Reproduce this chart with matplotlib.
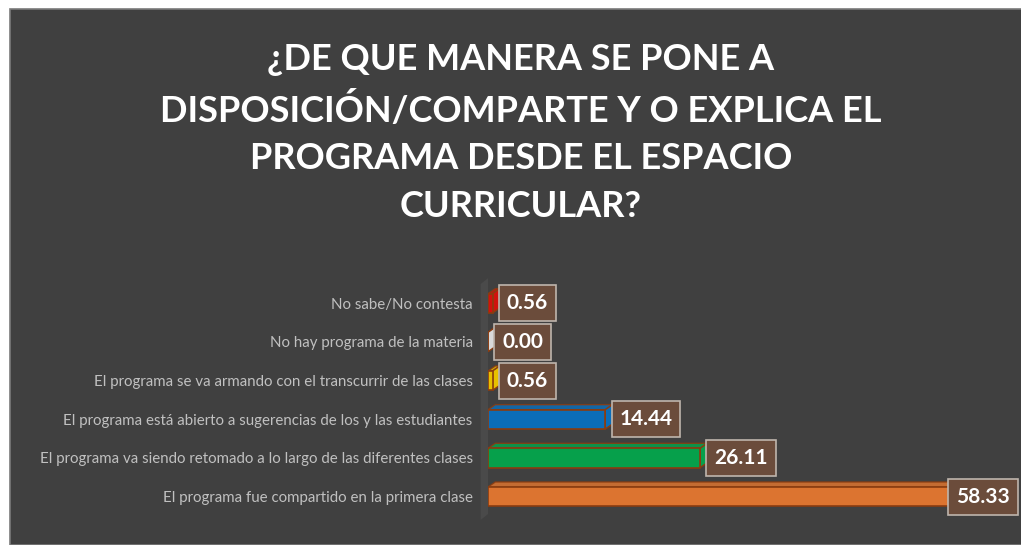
import matplotlib.pyplot as plt
from matplotlib.patches import Rectangle, Polygon

# datos (de arriba hacia abajo)
categorias = [
    'No sabe/No contesta',
    'No hay programa de la materia',
    'El programa se va armando con el transcurrir de las clases',
    'El programa está abierto a sugerencias de los y las estudiantes',
    'El programa va siendo retomado a lo largo de las diferentes clases',
    'El programa fue compartido en la primera clase',
]
valores = [0.56, 0.00, 0.56, 14.44, 26.11, 58.33]
colores = ['#D0120E', '#D9D9D9', '#E8C000', '#0B6DB8', '#06A04B', '#DC7430']
titulo = '¿DE QUE MANERA SE PONE A\nDISPOSICIÓN/COMPARTE Y O EXPLICA EL\nPROGRAMA DESDE EL ESPACIO\nCURRICULAR?'

fondo = '#404040'
borde = '#8A3C10'

fig = plt.figure(figsize=(10.21, 5.45), dpi=100, facecolor='white')
fig.patches.append(Rectangle((10 / 1021, 0), 1, 1 - 9 / 545, transform=fig.transFigure,
                             facecolor=fondo, edgecolor='#7a7a7a', lw=1.2, zorder=-5))

fig.text(0.51, 1 - 43 / 545, titulo, ha='center', va='top', color='white', fontsize=26,
         fontweight='bold', family='Lato', linespacing=1.53)

ax = fig.add_axes([488 / 1021, 1 - 516 / 545, (1016 - 488) / 1021, (516 - 284) / 545])
ax.set_facecolor('none')
xmax = 65
y = list(range(len(categorias)))[::-1]
alto = 0.5
ax.barh(y, valores, height=alto, color=colores, edgecolor=borde, lw=1.2, zorder=3)

# cara superior (efecto 3D)
dx, dy = 0.9, 0.13
for yi, v, c in zip(y, valores, colores):
    top = yi + alto / 2
    ax.add_patch(Polygon([(0, top), (dx, top + dy), (v + dx, top + dy), (v, top)],
                         closed=True, facecolor=c, edgecolor=borde, lw=1.0, zorder=2,
                         alpha=0.85))
    ax.add_patch(Polygon([(v, top), (v + dx, top + dy), (v + dx, top + dy - alto), (v, top - alto)],
                         closed=True, facecolor=c, edgecolor=borde, lw=1.0, zorder=2))
    # la etiqueta no se sale del área (como Excel)
    xl = min(v + dx, xmax - 8.2)
    ax.annotate(f'{v:.2f}', xy=(xl, yi), xytext=(5, 0), textcoords='offset points',
                ha='left', va='center', color='white', fontsize=15, fontweight='bold',
                family='Lato', zorder=5,
                bbox=dict(boxstyle='square,pad=0.38', facecolor='#6B4C3B', edgecolor='#BFB5AD', lw=1.2))

# pared lateral
ax.add_patch(Polygon([(-0.9, -0.6), (0, -0.45), (0, 5.65), (-0.9, 5.5)], closed=True,
                     facecolor='#4a4a4a', edgecolor='none', zorder=1, clip_on=False))

ax.set_xlim(0, xmax)
ax.set_ylim(-0.5, 5.5)
ax.set_yticks(y)
ax.set_yticklabels(categorias, color='#C0C0C0', fontsize=10.8, family='Lato')
ax.tick_params(axis='y', length=0, pad=11)
ax.set_xticks([])
for s in ax.spines.values():
    s.set_visible(False)

fig.savefig('out.png', dpi=100, facecolor=fig.get_facecolor())
